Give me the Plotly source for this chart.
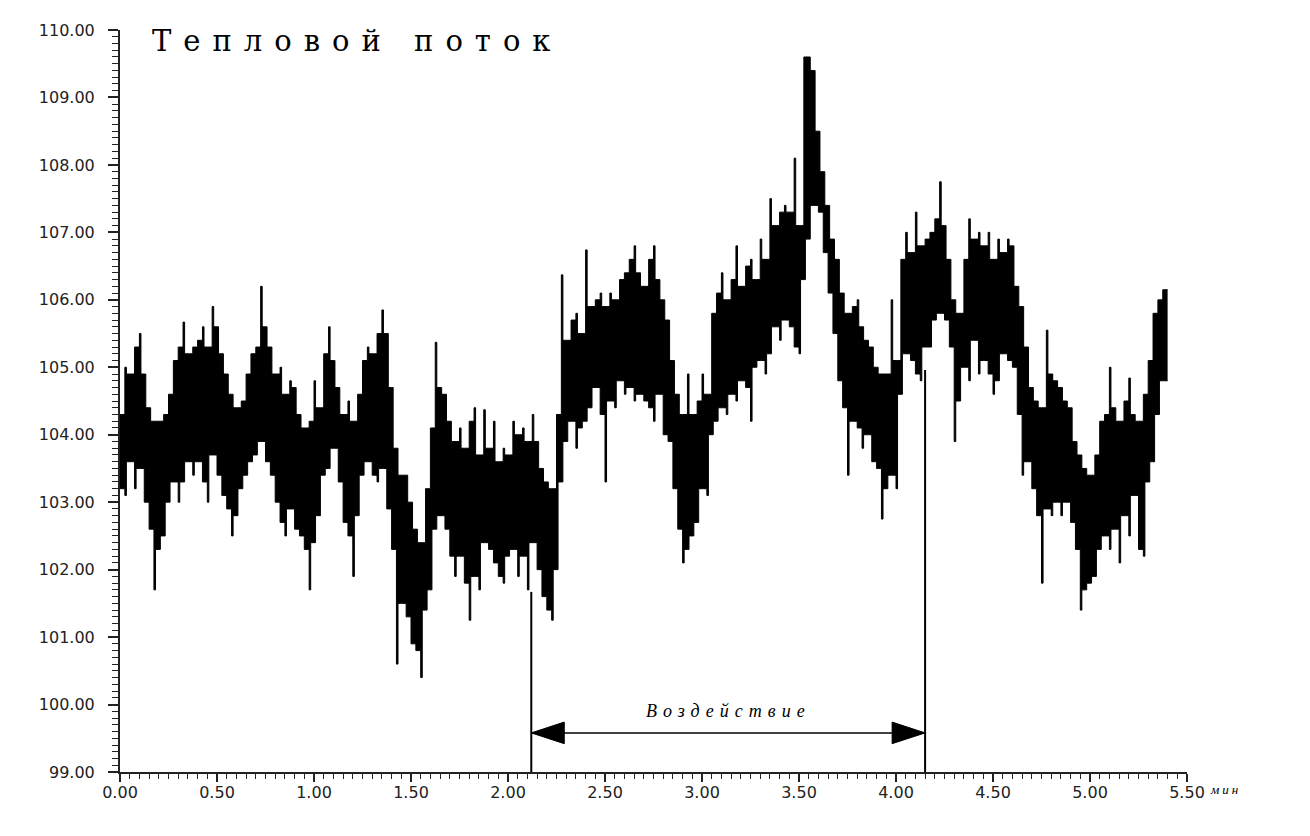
import plotly.graph_objects as go

# Heat-flux record: sampling times (min) with the upper and lower edge of the noisy trace
time_min = [
    0.000, 0.025, 0.050, 0.075, 0.100, 0.125, 0.150, 0.175, 0.200, 0.225,
    0.250, 0.275, 0.300, 0.325, 0.350, 0.375, 0.400, 0.425, 0.450, 0.475,
    0.500, 0.525, 0.550, 0.575, 0.600, 0.625, 0.650, 0.675, 0.700, 0.725,
    0.750, 0.775, 0.800, 0.825, 0.850, 0.875, 0.900, 0.925, 0.950, 0.975,
    1.000, 1.025, 1.050, 1.075, 1.100, 1.125, 1.150, 1.175, 1.200, 1.225,
    1.250, 1.275, 1.300, 1.325, 1.350, 1.375, 1.400, 1.425, 1.450, 1.475,
    1.500, 1.525, 1.550, 1.575, 1.600, 1.625, 1.650, 1.675, 1.700, 1.725,
    1.750, 1.775, 1.800, 1.825, 1.850, 1.875, 1.900, 1.925, 1.950, 1.975,
    2.000, 2.025, 2.050, 2.075, 2.100, 2.125, 2.150, 2.175, 2.200, 2.225,
    2.250, 2.275, 2.300, 2.325, 2.350, 2.375, 2.400, 2.425, 2.450, 2.475,
    2.500, 2.525, 2.550, 2.575, 2.600, 2.625, 2.650, 2.675, 2.700, 2.725,
    2.750, 2.775, 2.800, 2.825, 2.850, 2.875, 2.900, 2.925, 2.950, 2.975,
    3.000, 3.025, 3.050, 3.075, 3.100, 3.125, 3.150, 3.175, 3.200, 3.225,
    3.250, 3.275, 3.300, 3.325, 3.350, 3.375, 3.400, 3.425, 3.450, 3.475,
    3.500, 3.525, 3.550, 3.575, 3.600, 3.625, 3.650, 3.675, 3.700, 3.725,
    3.750, 3.775, 3.800, 3.825, 3.850, 3.875, 3.900, 3.925, 3.950, 3.975,
    4.000, 4.025, 4.050, 4.075, 4.100, 4.125, 4.150, 4.175, 4.200, 4.225,
    4.250, 4.275, 4.300, 4.325, 4.350, 4.375, 4.400, 4.425, 4.450, 4.475,
    4.500, 4.525, 4.550, 4.575, 4.600, 4.625, 4.650, 4.675, 4.700, 4.725,
    4.750, 4.775, 4.800, 4.825, 4.850, 4.875, 4.900, 4.925, 4.950, 4.975,
    5.000, 5.025, 5.050, 5.075, 5.100, 5.125, 5.150, 5.175, 5.200, 5.225,
    5.250, 5.275, 5.300, 5.325, 5.350, 5.375,
]

flux_high = [
    104.3, 105.0, 104.9, 105.3, 105.5, 104.9, 104.4, 104.2, 104.2, 104.3,
    104.6, 105.1, 105.3, 105.67, 105.2, 105.3, 105.4, 105.6, 105.3, 105.9,
    105.6, 105.2, 104.9, 104.6, 104.4, 104.5, 104.9, 105.2, 105.3, 106.2,
    105.6, 105.3, 104.9, 105.0, 104.6, 104.8, 104.7, 104.3, 104.1, 104.2,
    104.8, 104.4, 105.2, 105.6, 105.1, 104.7, 104.3, 104.5, 104.2, 104.6,
    105.1, 105.3, 105.2, 105.5, 105.85, 105.5, 104.7, 103.8, 103.4, 103.4,
    103.0, 102.6, 102.4, 103.2, 104.1, 105.37, 104.7, 104.6, 104.2, 103.9,
    104.1, 103.8, 104.2, 104.4, 103.7, 104.37, 103.8, 104.2, 103.6, 103.8,
    103.7, 104.2, 104.0, 104.1, 103.9, 104.3, 103.9, 103.5, 103.3, 103.2,
    104.3, 106.37, 105.4, 105.7, 105.8, 105.5, 106.74, 105.9, 106.0, 106.1,
    105.9, 106.1, 106.0, 106.3, 106.4, 106.6, 106.8, 106.4, 106.2, 106.6,
    106.8, 106.3, 106.0, 105.7, 105.1, 104.6, 104.3, 104.9, 104.3, 104.5,
    104.9, 104.6, 105.8, 106.1, 106.4, 106.0, 106.3, 106.8, 106.2, 106.5,
    106.6, 106.3, 106.9, 106.6, 107.5, 107.1, 107.3, 107.4, 107.3, 108.1,
    107.1, 109.6, 109.6, 109.4, 108.5, 107.9, 107.4, 106.9, 106.6, 106.1,
    105.8, 105.9, 106.0, 105.6, 105.4, 105.3, 105.0, 104.9, 104.9, 106.0,
    105.1, 106.6, 107.0, 106.7, 107.3, 106.8, 106.9, 107.0, 107.2, 107.75,
    107.1, 106.6, 106.0, 105.8, 106.6, 107.2, 106.9, 107.0, 106.8, 107.0,
    106.6, 106.9, 106.7, 106.9, 106.8, 106.2, 105.9, 105.3, 104.7, 104.5,
    104.4, 105.55, 104.9, 104.8, 104.7, 104.5, 104.4, 103.9, 103.7, 103.5,
    103.4, 103.7, 104.2, 104.3, 105.0, 104.4, 104.2, 104.5, 104.84, 104.3,
    104.2, 104.6, 105.1, 105.8, 106.0, 106.15,
]

flux_low = [
    103.2, 103.1, 103.6, 103.2, 103.5, 103.0, 102.6, 101.7, 102.3, 102.5,
    103.0, 103.3, 103.0, 103.3, 103.6, 103.4, 103.6, 103.3, 103.0, 103.7,
    103.4, 103.1, 102.9, 102.5, 102.8, 103.2, 103.4, 103.6, 103.7, 103.9,
    103.6, 103.4, 103.0, 102.7, 102.5, 102.9, 102.6, 102.5, 102.3, 101.7,
    102.4, 102.8, 103.4, 103.5, 103.8, 103.3, 102.7, 102.5, 101.9, 102.8,
    103.4, 103.6, 103.4, 103.3, 103.5, 102.9, 102.3, 100.6, 101.5, 101.3,
    100.9, 100.8, 100.4, 101.4, 101.7, 102.6, 102.8, 102.6, 102.2, 101.9,
    102.2, 101.8, 101.25, 101.9, 101.7, 102.4, 102.3, 102.1, 101.9, 101.8,
    102.2, 102.3, 101.9, 102.2, 101.7, 102.4, 102.0, 101.6, 101.4, 101.25,
    102.0, 103.3, 103.9, 104.2, 103.8, 104.1, 104.2, 104.4, 104.7, 104.3,
    103.3, 104.5, 104.4, 104.8, 104.6, 104.7, 104.5, 104.6, 104.5, 104.4,
    104.2, 104.6, 104.0, 103.9, 103.2, 102.6, 102.1, 102.3, 102.5, 102.7,
    103.2, 103.1, 104.0, 104.2, 104.4, 104.3, 104.6, 104.5, 104.8, 104.7,
    104.2, 105.0, 105.1, 104.9, 105.2, 105.6, 105.4, 105.7, 105.6, 105.3,
    105.2, 106.3, 106.9, 107.4, 107.3, 106.7, 106.1, 105.5, 104.8, 104.4,
    103.4, 104.2, 104.1, 103.8, 104.0, 103.6, 103.5, 102.75, 103.2, 103.4,
    103.2, 104.6, 105.2, 105.1, 104.9, 104.8, 105.3, 105.3, 105.7, 105.8,
    105.7, 105.3, 103.9, 104.5, 105.0, 104.8, 105.4, 104.9, 105.1, 104.9,
    104.6, 104.8, 105.2, 105.1, 105.0, 104.3, 103.4, 103.6, 103.2, 102.8,
    101.8, 102.9, 102.8, 103.0, 102.8, 103.0, 102.7, 102.3, 101.4, 101.7,
    101.8, 101.9, 102.3, 102.5, 102.3, 102.6, 102.1, 102.8, 102.5, 103.1,
    102.3, 102.2, 103.3, 103.6, 104.3, 104.8,
]

# Exposure interval (min) and the heights reached by its boundary markers
effect_start = 2.12
effect_end = 4.15
effect_start_top = 101.67
effect_end_top = 104.96
arrow_level = 99.58
effect_label = "Воздействие"

title_text = "Тепловой поток"
unit_text = "мин"

y_ticks = [99, 100, 101, 102, 103, 104, 105, 106, 107, 108, 109, 110]
x_ticks = [0.0, 0.5, 1.0, 1.5, 2.0, 2.5, 3.0, 3.5, 4.0, 4.5, 5.0, 5.5]

# Step outline of the band: every sample shows as a thin spike, the rest of
# its interval sits at the level shared with the next sample.
spike_w = 0.008
step = time_min[1] - time_min[0]


def edge(values, pick):
    xs, ys = [], []
    n = len(values)
    for i in range(n):
        nxt = values[i + 1] if i + 1 < n else values[i]
        xs += [time_min[i], time_min[i] + spike_w]
        ys += [values[i], pick(values[i], nxt)]
    xs.append(time_min[-1] + step)
    ys.append(values[-1])
    return xs, ys


low_x, low_y = edge(flux_low, max)
high_x, high_y = edge(flux_high, min)

fig = go.Figure()
fig.add_trace(go.Scatter(
    x=low_x, y=low_y, mode="lines", line=dict(color="black", width=1, shape="hv"),
    hoverinfo="skip", showlegend=False,
))
fig.add_trace(go.Scatter(
    x=high_x, y=high_y, mode="lines", line=dict(color="black", width=1, shape="hv"),
    fill="tonexty", fillcolor="black",
    hoverinfo="skip", showlegend=False,
))


def spaced(text, px):
    return f'<span style="letter-spacing:{px}px">{text}</span>'


tick_font = dict(family="DejaVu Sans", size=16, color="#222")

fig.update_xaxes(
    range=[0, 5.5], showgrid=False, zeroline=False,
    showline=True, linecolor="#222", linewidth=2,
    tickmode="array", tickvals=x_ticks,
    ticktext=[f"{v:.2f}" for v in x_ticks],
    ticks="outside", ticklen=8, tickwidth=1.5, tickcolor="#222",
    tickfont=tick_font, ticklabelstandoff=-3,
    minor=dict(tickmode="linear", tick0=0, dtick=0.05, ticks="outside",
               ticklen=5, tickwidth=1.2, tickcolor="#222"),
    automargin=False,
)
fig.update_yaxes(
    range=[99, 110], showgrid=False, zeroline=False,
    showline=True, linecolor="#222", linewidth=2,
    tickmode="array", tickvals=y_ticks,
    ticktext=[f"{v:.2f}" for v in y_ticks],
    ticks="outside", ticklen=10, tickwidth=1.5, tickcolor="#222",
    tickfont=tick_font, ticklabelstandoff=10,
    minor=dict(tickmode="linear", tick0=99, dtick=0.1, ticks="outside",
               ticklen=6, tickwidth=1.2, tickcolor="#222"),
    automargin=False,
)

# Boundary markers of the exposure interval
fig.add_shape(type="line", x0=effect_start, x1=effect_start, y0=99, y1=effect_start_top,
              line=dict(color="black", width=2))
fig.add_shape(type="line", x0=effect_end, x1=effect_end, y0=99, y1=effect_end_top,
              line=dict(color="black", width=2))

# Double-headed arrow between the markers
head_len = 0.17
head_half = 0.16
fig.add_shape(type="line", x0=effect_start, x1=effect_end, y0=arrow_level, y1=arrow_level,
              line=dict(color="black", width=1.5))
fig.add_shape(
    type="path",
    path=(f"M {effect_start},{arrow_level} L {effect_start + head_len},{arrow_level + head_half} "
          f"L {effect_start + head_len},{arrow_level - head_half} Z"),
    fillcolor="black", line=dict(color="black", width=1),
)
fig.add_shape(
    type="path",
    path=(f"M {effect_end},{arrow_level} L {effect_end - head_len},{arrow_level + head_half} "
          f"L {effect_end - head_len},{arrow_level - head_half} Z"),
    fillcolor="black", line=dict(color="black", width=1),
)

fig.add_annotation(
    x=(effect_start + effect_end) / 2, y=arrow_level, yshift=10,
    text=spaced(effect_label, 6), showarrow=False,
    font=dict(family="Liberation Serif", size=18, color="black", style="italic"),
    xanchor="center", yanchor="bottom",
)

fig.add_annotation(
    xref="paper", yref="paper", x=0.028, y=0.985,
    text=spaced(title_text, 12), showarrow=False,
    font=dict(family="DejaVu Serif", size=29, color="black"),
    xanchor="left", yanchor="middle",
)

fig.add_annotation(
    xref="paper", yref="paper", x=1.02, y=-0.023,
    text=spaced(unit_text, 3), showarrow=False,
    font=dict(family="Liberation Serif", size=13, color="black", style="italic"),
    xanchor="left", yanchor="middle",
)

fig.update_layout(
    width=1310, height=836,
    margin=dict(l=120, r=123, t=30, b=64),
    paper_bgcolor="white", plot_bgcolor="white",
    showlegend=False,
)

fig.write_html("out.html")
